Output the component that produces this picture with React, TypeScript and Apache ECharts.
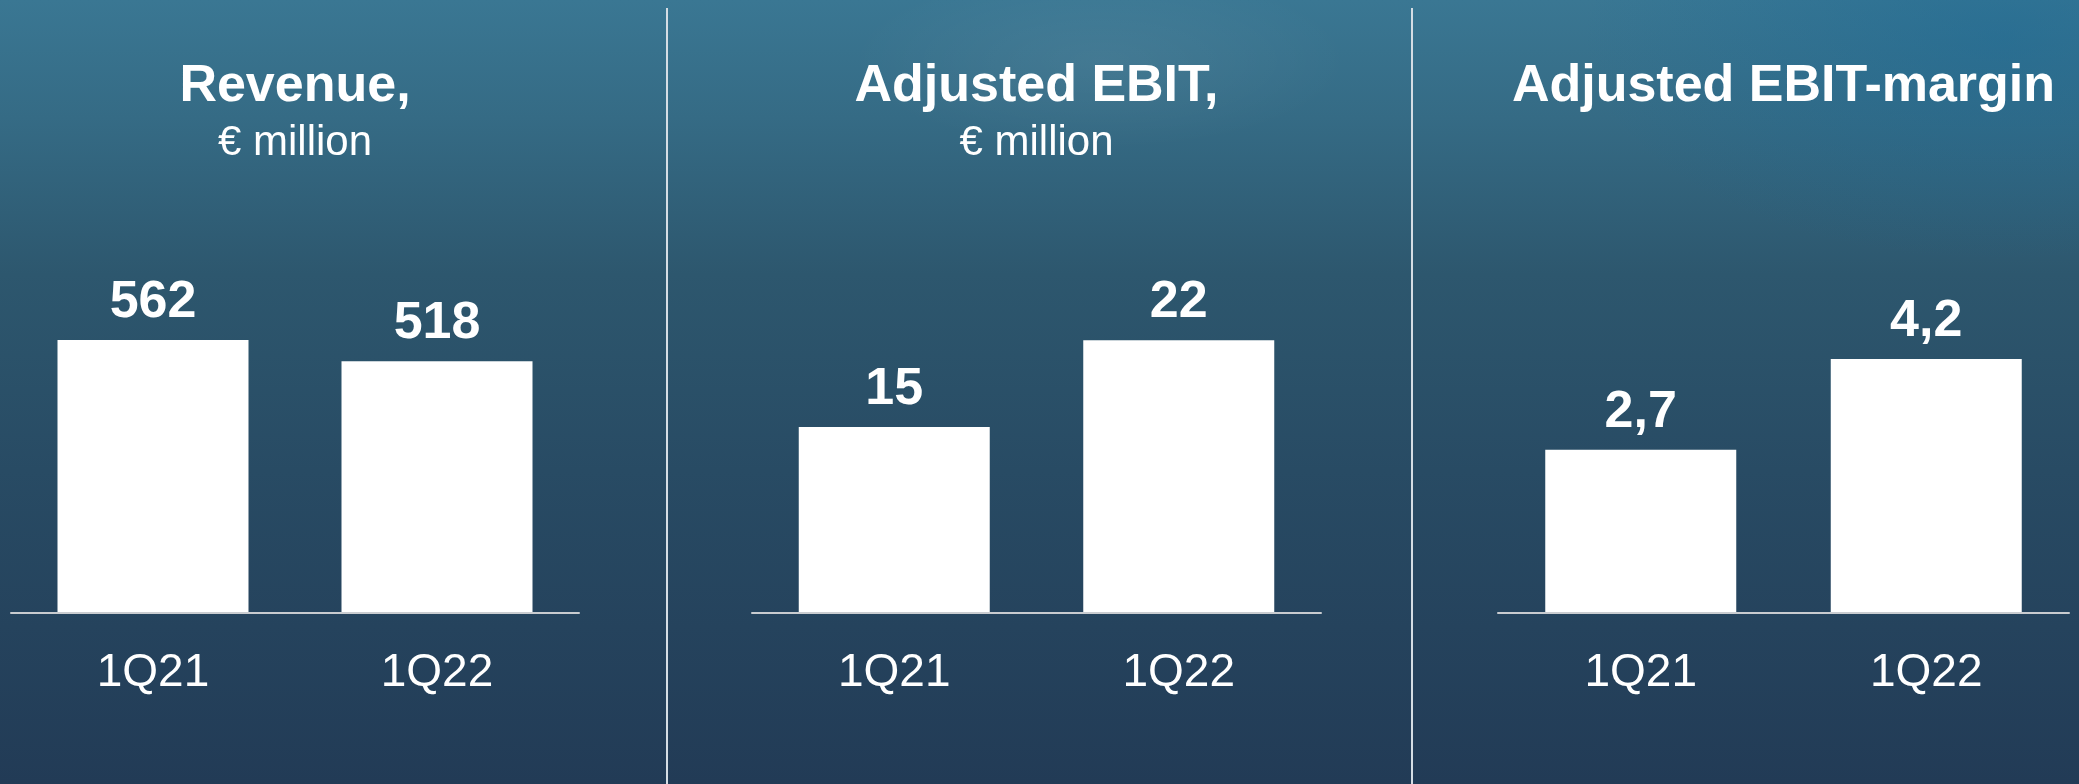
import React, { useEffect, useRef } from "react";
import * as echarts from "echarts";

const categories = ["1Q21", "1Q22"];
const revenueValues = [562, 518];
const ebitValues = [15, 22];
const marginValues = [2.7, 4.2];
const panelTitles = ["Revenue,", "Adjusted EBIT,", "Adjusted EBIT-margin"];
const panelSubtitles = ["€ million", "€ million", ""];
const panelMax = [850, 33.3, 6.83];

const W = 2079;
const H = 784;
const FONT = "'Liberation Sans', Arial, Helvetica, sans-serif";

export default function App() {
  const ref = useRef<HTMLDivElement>(null);

  useEffect(() => {
    if (!ref.current) return;
    const chart = echarts.init(ref.current, undefined, { renderer: "svg" });

    const grids = [
      { left: 11, width: 568, top: 200, height: 413 },
      { left: 752, width: 569, top: 200, height: 413 },
      { left: 1498, width: 571, top: 200, height: 413 },
    ];
    const centers = grids.map((g) => g.left + g.width / 2);
    const seriesData = [revenueValues, ebitValues, marginValues];

    const graphics: any[] = [
      {
        type: "rect",
        silent: true,
        z: -10,
        shape: { x: 0, y: 0, width: W, height: H },
        style: {
          fill: new echarts.graphic.LinearGradient(0, 0, 0, 1, [
            { offset: 0, color: "#3a7793" },
            { offset: 0.15, color: "#356b85" },
            { offset: 0.35, color: "#2d576e" },
            { offset: 0.6, color: "#284b64" },
            { offset: 1, color: "#223b56" },
          ]),
        },
      },
      {
        type: "ellipse",
        silent: true,
        z: -9,
        shape: { cx: 2000, cy: 40, rx: 420, ry: 220 },
        style: {
          fill: new echarts.graphic.RadialGradient(0.5, 0.5, 0.5, [
            { offset: 0, color: "rgba(25,105,150,0.45)" },
            { offset: 1, color: "rgba(25,105,150,0)" },
          ]),
        },
      },
      {
        type: "ellipse",
        silent: true,
        z: -8,
        shape: { cx: 1100, cy: 60, rx: 250, ry: 90 },
        style: {
          fill: new echarts.graphic.RadialGradient(0.5, 0.5, 0.5, [
            { offset: 0, color: "rgba(255,255,255,0.06)" },
            { offset: 1, color: "rgba(255,255,255,0)" },
          ]),
        },
      },
      {
        type: "line",
        silent: true,
        shape: { x1: 667, y1: 8, x2: 667, y2: H },
        style: { stroke: "#d5dde4", lineWidth: 2 },
      },
      {
        type: "line",
        silent: true,
        shape: { x1: 1412, y1: 8, x2: 1412, y2: H },
        style: { stroke: "#d5dde4", lineWidth: 2 },
      },
    ];

    panelTitles.forEach((t, i) => {
      graphics.push({
        type: "text",
        x: centers[i],
        y: 83,
        style: {
          text: t,
          fill: "#ffffff",
          font: `bold 52px ${FONT}`,
          textAlign: "center",
          textVerticalAlign: "middle",
        },
      });
      if (panelSubtitles[i]) {
        graphics.push({
          type: "text",
          x: centers[i],
          y: 140,
          style: {
            text: panelSubtitles[i],
            fill: "#ffffff",
            font: `42px ${FONT}`,
            textAlign: "center",
            textVerticalAlign: "middle",
          },
        });
      }
    });

    chart.setOption({
      animation: false,
      graphic: { elements: graphics },
      grid: grids,
      xAxis: grids.map((_, i) => ({
        type: "category",
        gridIndex: i,
        data: categories,
        axisTick: { show: false },
        axisLine: { lineStyle: { color: "#c9ccd0", width: 2 } },
        axisLabel: {
          color: "#ffffff",
          fontSize: 46,
          fontFamily: FONT,
          margin: 34,
        },
        z: 5,
      })),
      yAxis: grids.map((_, i) => ({
        type: "value",
        gridIndex: i,
        min: 0,
        max: panelMax[i],
        show: false,
        splitLine: { show: false },
      })),
      series: seriesData.map((d, i) => ({
        type: "bar",
        xAxisIndex: i,
        yAxisIndex: i,
        data: d,
        barWidth: 191,
        itemStyle: { color: "#ffffff" },
        label: {
          show: true,
          position: "top",
          distance: 15,
          color: "#ffffff",
          fontSize: 52,
          fontWeight: "bold",
          fontFamily: FONT,
          formatter: (p: any) => String(p.value).replace(".", ","),
        },
      })),
    });

    return () => chart.dispose();
  }, []);

  return (
    <div
      ref={ref}
      style={{ position: "fixed", left: 0, top: 0, width: W, height: H }}
    />
  );
}
